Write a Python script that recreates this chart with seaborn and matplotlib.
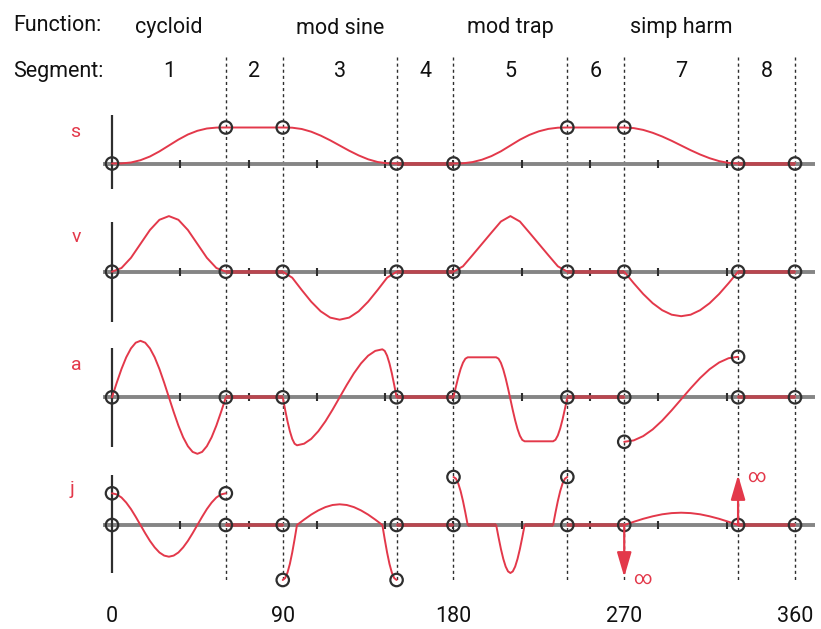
import numpy as np
import pandas as pd
import matplotlib.pyplot as plt
import seaborn as sns

# ---- chart data -------------------------------------------------------------
boundaries = [0, 60, 90, 150, 180, 240, 270, 330, 360]
segment_labels = ['1', '2', '3', '4', '5', '6', '7', '8']
function_names = ['cycloid', 'mod sine', 'mod trap', 'simp harm']
function_segments = [0, 2, 4, 6]          # index of the segment each function sits over
x_tick_labels = [0, 90, 180, 270, 360]
axis_ticks = [36, 72, 108, 144, 180, 216, 252, 288, 324]
row_names = ['s', 'v', 'a', 'j']

# displacement
s_theta = [0, 5, 10, 15, 20, 25, 30, 35, 40, 45, 50, 55, 60,
           90, 95, 100, 105, 110, 115, 120, 125, 130, 135, 140, 145, 150,
           180, 185, 190, 195, 200, 205, 210, 215, 220, 225, 230, 235, 240,
           270, 275, 280, 285, 290, 295, 300, 305, 310, 315, 320, 325, 330,
           360]
s_vals = [0, 0.1, 1.0, 3.3, 7.0, 12.1, 18, 23.9, 29.0, 32.7, 35.0, 35.9, 36,
          36, 35.8, 34.5, 31.8, 27.9, 23.2, 18, 12.8, 8.1, 4.2, 1.5, 0.2, 0,
          0, 0.2, 1.4, 3.8, 7.4, 12.2, 18, 23.8, 28.6, 32.2, 34.6, 35.8, 36,
          36, 35.4, 33.6, 30.7, 27, 22.7, 18, 13.3, 9, 5.3, 2.4, 0.6, 0,
          0]

# velocity
v_theta = [0, 5, 10, 15, 20, 25, 30, 35, 40, 45, 50, 55, 60,
           90, 95, 100, 105, 110, 115, 120, 125, 130, 135, 140, 145, 150,
           180, 185, 190, 195, 200, 205, 210, 215, 220, 225, 230, 235, 240,
           270, 275, 280, 285, 290, 295, 300, 305, 310, 315, 320, 325, 330,
           360]
v_vals = [0, 3.7, 13.9, 27.8, 41.7, 51.9, 55.6, 51.9, 41.7, 27.8, 13.9, 3.7, 0,
          0, -6.0, -18.3, -30.0, -39.6, -45.9, -48.0, -45.9, -39.6, -30.0, -18.3, -6.0, 0,
          0, 5.4, 16.5, 27.8, 39.1, 50.2, 55.6, 50.2, 39.1, 27.8, 16.5, 5.4, 0,
          0, -11.5, -22.3, -31.5, -38.5, -43, -44.5, -43, -38.5, -31.5, -22.3, -11.5, 0,
          0]

# acceleration (None splits the curve where it jumps)
a_theta = [0, 2.5, 5, 7.5, 10, 12.5, 15, 17.5, 20, 22.5, 25, 27.5, 30,
           32.5, 35, 37.5, 40, 42.5, 45, 47.5, 50, 52.5, 55, 57.5, 60,
           90, 91.25, 92.5, 93.75, 95, 96.25, 97.5, 101.25, 105, 108.75, 112.5, 116.25, 120,
           123.75, 127.5, 131.25, 135, 138.75, 142.5, 143.75, 145, 146.25, 147.5, 148.75, 150,
           180, 181.25, 182.5, 183.75, 185, 186.25, 187.5, 202.5, 203.75, 205, 206.25, 207.5,
           208.75, 210, 211.25, 212.5, 213.75, 215, 216.25, 217.5, 232.5, 233.75, 235, 236.25,
           237.5, 238.75, 240, 270,
           None,
           270, 275, 280, 285, 290, 295, 300, 305, 310, 315, 320, 325, 330,
           None,
           330, 360]
a_vals = [0, 14.6, 28.3, 40.0, 48.9, 54.6, 56.5, 54.6, 48.9, 40.0, 28.3, 14.6, 0,
          -14.6, -28.3, -40.0, -48.9, -54.6, -56.5, -54.6, -48.9, -40.0, -28.3, -14.6, 0,
          0, -12.4, -24, -33.9, -41.6, -46.4, -48, -46.4, -41.6, -33.9, -24, -12.4, 0,
          12.4, 24, 33.9, 41.6, 46.4, 48, 46.4, 41.6, 33.9, 24, 12.4, 0,
          0, 10.4, 20, 28.3, 34.6, 38.6, 40, 40, 38.6, 34.4, 27.7, 19,
          8.9, -2, -12.9, -23, -31.7, -38.4, -42.6, -44, -44, -42.5, -38.1, -31.1,
          -22, -11.4, 0, 0,
          None,
          -44.5, -43.1, -38.8, -32.1, -23.3, -13, -2, 9, 19.3, 28.1, 34.8, 39.1, 40.5,
          None,
          0, 0]

# jerk
j_theta = [0, 2.5, 5, 7.5, 10, 12.5, 15, 17.5, 20, 22.5, 25, 27.5, 30,
           32.5, 35, 37.5, 40, 42.5, 45, 47.5, 50, 52.5, 55, 57.5, 60,
           None,
           60, 90,
           None,
           90, 91.25, 92.5, 93.75, 95, 96.25, 97.5, 101.25, 105, 108.75, 112.5, 116.25, 120,
           123.75, 127.5, 131.25, 135, 138.75, 142.5, 143.75, 145, 146.25, 147.5, 148.75, 150,
           None,
           150, 180,
           None,
           180, 181.25, 182.5, 183.75, 185, 186.25, 187.5, 202.5, 203.75, 205, 206.25, 207.5,
           208.75, 210, 211.25, 212.5, 213.75, 215, 216.25, 217.5, 232.5, 233.75, 235, 236.25,
           237.5, 238.75, 240,
           None,
           240, 270, 275, 280, 285, 290, 295, 300, 305, 310, 315, 320, 325, 330, 360]
j_vals = [31.7, 30.6, 27.5, 22.4, 15.9, 8.2, 0, -8.2, -15.9, -22.4, -27.5, -30.6, -31.7,
          -30.6, -27.5, -22.4, -15.9, -8.2, 0, 8.2, 15.9, 22.4, 27.5, 30.6, 31.7,
          None,
          0, 0,
          None,
          -55, -53.1, -47.6, -38.9, -27.5, -14.2, 0, 5.4, 10.4, 14.6, 17.9, 20, 20.7,
          20, 17.9, 14.6, 10.4, 5.4, 0, -14.2, -27.5, -38.9, -47.6, -53.1, -55,
          None,
          0, 0,
          None,
          48, 46.4, 41.6, 33.9, 24, 12.4, 0, 0, -12.4, -24, -33.9, -41.6,
          -46.4, -48, -46.4, -41.6, -33.9, -24, -12.4, 0, 0, 12.4, 24, 33.9,
          41.6, 46.4, 48,
          None,
          0, 0, 3.2, 6.2, 8.7, 10.7, 11.9, 12.3, 11.9, 10.7, 8.7, 6.2, 3.2, 0, 0]

# open circles at the segment ends
s_circ_theta = [0, 60, 90, 150, 180, 240, 270, 330, 360]
s_circ_vals = [0, 36, 36, 0, 0, 36, 36, 0, 0]
v_circ_theta = [0, 60, 90, 150, 180, 240, 270, 330, 360]
v_circ_vals = [0, 0, 0, 0, 0, 0, 0, 0, 0]
a_circ_theta = [0, 60, 90, 150, 180, 240, 270, 330, 360, 270, 330]
a_circ_vals = [0, 0, 0, 0, 0, 0, 0, 0, 0, -44.5, 40.5]
j_circ_theta = [0, 60, 90, 150, 180, 240, 270, 330, 360, 0, 60, 90, 150, 180, 240]
j_circ_vals = [0, 0, 0, 0, 0, 0, 0, 0, 0, 31.7, 31.7, -55, -55, 48, 48]

# infinite jerk spikes
j_inf_theta = [270, 330]
j_inf_tips = [-52, 50]

# ---- layout / style ---------------------------------------------------------
W, H = 821, 629
X0_PX, PX_PER_DEG = 112, 1.8972
row_base = {'s': 163.5, 'v': 271.7, 'a': 397.3, 'j': 525.0}      # baseline, pixels from top
row_axis = {'s': (48.5, -25), 'v': (50, -50), 'a': (49, -49.5), 'j': (50, -48)}
row_label_pos = {'s': (75, 137), 'v': (76.5, 241.5), 'a': (76.5, 369.5), 'j': (72, 494)}

RED = '#e3384a'
DWELL = '#b9464f'
GRAY = '#858585'
DARK = '#2e2e2e'

def deg(px):
    return (px - X0_PX) / PX_PER_DEG

def to_frame(theta, vals, base):
    rows, piece = [], 0
    for t, v in zip(theta, vals):
        if v is None:
            piece += 1
            continue
        rows.append((t, v, piece))
    df = pd.DataFrame(rows, columns=['theta', 'val', 'piece'])
    df['y'] = base - df['val']
    return df

def dwell_frame(df):
    # parts of the curve lying on the baseline
    rows, k = [], 0
    for (_, p), (_, q) in zip(df.iloc[:-1].iterrows(), df.iloc[1:].iterrows()):
        if p['piece'] == q['piece'] and p['val'] == 0 and q['val'] == 0:
            rows += [(p['theta'], p['y'], k), (q['theta'], q['y'], k)]
            k += 1
    return pd.DataFrame(rows, columns=['theta', 'y', 'piece'])

sns.set_theme(style='white')
plt.rcParams['font.family'] = ['Roboto', 'DejaVu Sans']

fig = plt.figure(figsize=(W / 100, H / 100), dpi=100)
ax = fig.add_axes([0, 0, 1, 1])

curves = {'s': (s_theta, s_vals), 'v': (v_theta, v_vals),
          'a': (a_theta, a_vals), 'j': (j_theta, j_vals)}
circles = {'s': (s_circ_theta, s_circ_vals), 'v': (v_circ_theta, v_circ_vals),
           'a': (a_circ_theta, a_circ_vals), 'j': (j_circ_theta, j_circ_vals)}

# dashed segment boundaries
ax.vlines(boundaries[1:], 57, 581, colors=DARK, linewidth=1.0,
          linestyles=(0, (2.2, 2.2)), zorder=1)

for name in row_names:
    base = row_base[name]
    # horizontal axis and its ticks, vertical axis at 0
    ax.plot([deg(103), deg(815)], [base, base], color=GRAY, lw=2.8,
            solid_capstyle='butt', zorder=2)
    ax.vlines(axis_ticks, base - 4, base + 4, colors=DARK, lw=1.5, zorder=3)
    top, bot = row_axis[name]
    ax.vlines(0, base - top, base - bot, colors=DARK, lw=1.6, zorder=3)

    df = to_frame(*curves[name], base)
    sns.lineplot(data=df, x='theta', y='y', units='piece', estimator=None,
                 sort=False, color=RED, lw=1.4, ax=ax, zorder=4, legend=False)
    dw = dwell_frame(df)
    sns.lineplot(data=dw, x='theta', y='y', units='piece', estimator=None,
                 sort=False, color=DWELL, lw=2.6, ax=ax, zorder=4,
                 legend=False, solid_capstyle='butt')

    ct, cv = circles[name]
    sns.scatterplot(x=ct, y=[base - v for v in cv], s=80, facecolor='none',
                    edgecolor=DARK, linewidth=1.6, ax=ax, zorder=6, legend=False)

    lx, ly = row_label_pos[name]
    ax.text(deg(lx), ly, name, color=RED, fontsize=14, ha='center', va='baseline')

# infinite jerk arrows
jb = row_base['j']
for t, tip in zip(j_inf_theta, j_inf_tips):
    ax.annotate('', xy=(t, jb - tip), xytext=(t, jb),
                arrowprops=dict(arrowstyle='-|>,head_length=0.75,head_width=0.22',
                                color=RED, lw=1.6, mutation_scale=20,
                                shrinkA=0, shrinkB=0), zorder=7)
    ax.text(t + 9.5, jb - tip + 1.5, '∞', color=RED, fontsize=13,
            ha='center', va='center')

# header rows
ax.text(deg(13), 31, 'Function:', fontsize=15.5, ha='left', va='baseline', color='#111')
ax.text(deg(13), 77, 'Segment:', fontsize=15.5, ha='left', va='baseline', color='#111')
for fname, si in zip(function_names, function_segments):
    mid = (boundaries[si] + boundaries[si + 1]) / 2
    ax.text(mid, 33.5, fname, fontsize=15.5, ha='center', va='baseline', color='#111')
for i, lab in enumerate(segment_labels):
    mid = (boundaries[i] + boundaries[i + 1]) / 2
    ax.text(mid, 77, lab, fontsize=15.5, ha='center', va='baseline', color='#111')
for t in x_tick_labels:
    ax.text(t, 627.5, str(t), fontsize=15.5, ha='center', va='bottom', color='#111')

ax.set_xlim(deg(0), deg(W))
ax.set_ylim(H, 0)
ax.axis('off')

fig.savefig('out.png', dpi=100)
